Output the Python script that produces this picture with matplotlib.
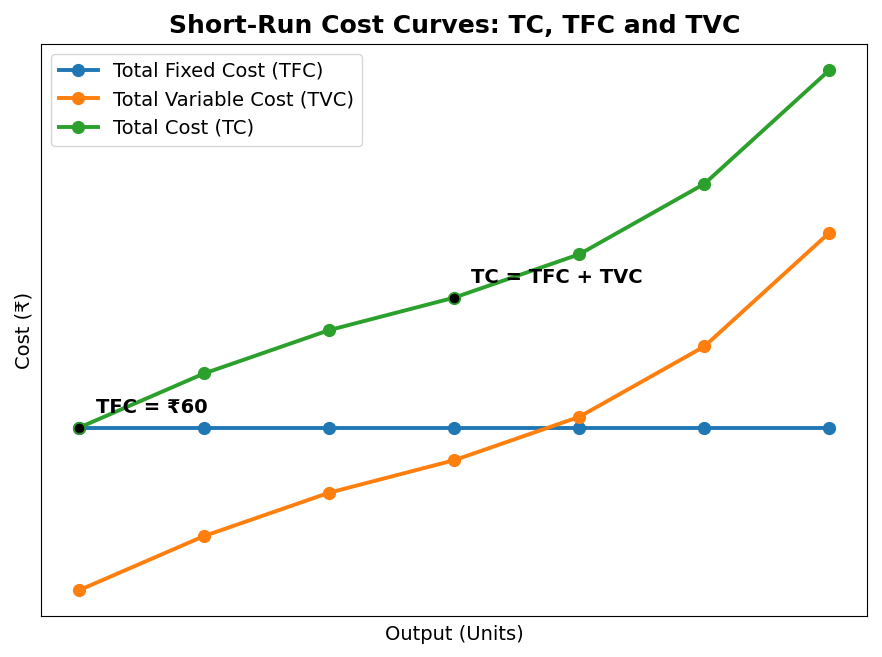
import matplotlib.pyplot as plt

output = [0, 1, 2, 3, 4, 5, 6]
tfc = [60, 60, 60, 60, 60, 60, 60]
tvc = [0, 20, 36, 48, 64, 90, 132]
tc = [f + v for f, v in zip(tfc, tvc)]

fig, ax = plt.subplots(figsize=(8.82, 6.57), dpi=100)

ax.plot(output, tfc, marker='o', linewidth=2.8, markersize=8.5, label='Total Fixed Cost (TFC)')
ax.plot(output, tvc, marker='o', linewidth=2.8, markersize=8.5, label='Total Variable Cost (TVC)')
ax.plot(output, tc, marker='o', linewidth=2.8, markersize=8.5, label='Total Cost (TC)')

# highlighted points
ax.scatter([output[0], output[3]], [tc[0], tc[3]], color='black', s=35, zorder=5)
ax.annotate('TFC = ₹60', (output[0], tfc[0]), xytext=(12, 10.5), textcoords='offset points',
            fontsize=14, fontweight='bold')
ax.annotate('TC = TFC + TVC', (output[3], tc[3]), xytext=(12, 10.5), textcoords='offset points',
            fontsize=14, fontweight='bold')

ax.set_title('Short-Run Cost Curves: TC, TFC and TVC', fontsize=18.1, fontweight='bold', pad=8)
ax.set_xlabel('Output (Units)', fontsize=14, labelpad=6)
ax.set_ylabel('Cost (₹)', fontsize=14, labelpad=6)
ax.set_xticks([])
ax.set_yticks([])
ax.legend(loc='upper left', fontsize=14)

fig.subplots_adjust(left=0.047, right=0.983, top=0.933, bottom=0.062)
fig.savefig('out.png')
